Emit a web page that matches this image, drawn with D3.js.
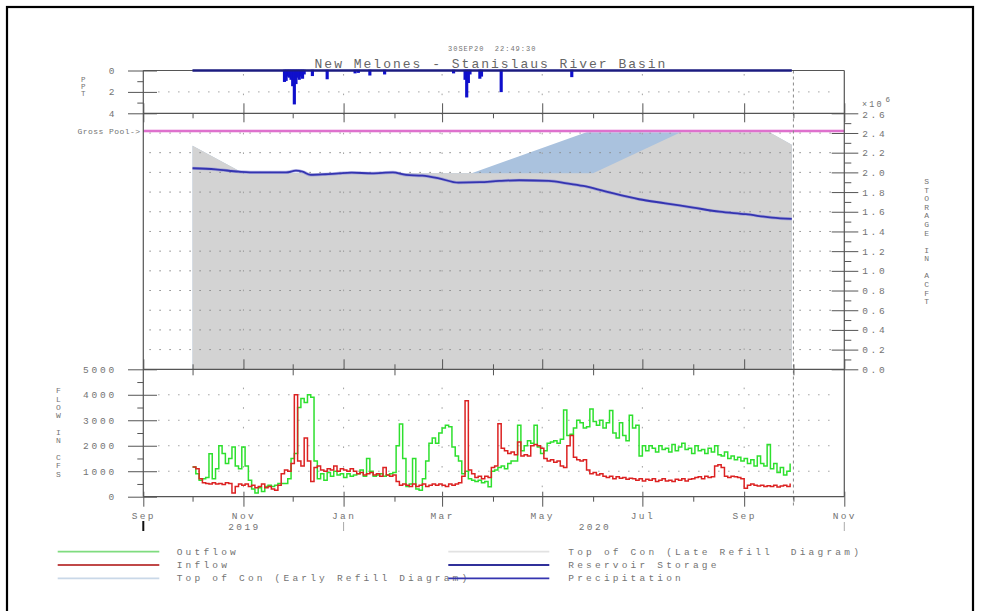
<!DOCTYPE html>
<html>
<head>
<meta charset="utf-8">
<script src="https://cdn.jsdelivr.net/npm/d3@7"></script>
<style>
  html, body { margin: 0; padding: 0; background: #fff; }
  svg { display: block; }
</style>
</head>
<body>
<svg id="chart" width="981" height="611"></svg>
<script>
// ---------------- data ----------------
const titleText = "New Melones - Stanislaus River Basin";
const stampText = "30SEP20  22:49:30";

// time axis
const axisStart = "2019-09-01";
const axisEnd = "2020-11-01";
const waterYearStart = "2019-10-01";
const waterYearEnd = "2020-10-01";

// precipitation (inches, daily, non-zero days)
const precipDates = ["2019-11-26","2019-11-27","2019-11-28","2019-11-29","2019-11-30","2019-12-01","2019-12-02","2019-12-03","2019-12-04","2019-12-05","2019-12-06","2019-12-07","2019-12-08","2019-12-13","2019-12-22","2020-01-08","2020-01-10","2020-01-17","2020-01-26","2020-03-08","2020-03-15","2020-03-16","2020-03-17","2020-03-18","2020-03-24","2020-03-25","2020-04-06","2020-05-19"];
const precipValues = [1.0,0.9,0.5,0.6,0.8,1.4,3.1,1.2,0.6,0.8,0.5,0.7,0.3,0.45,0.75,0.2,0.15,0.4,0.3,0.2,0.8,2.45,1.1,0.3,0.7,0.5,1.95,0.55];

// reservoir storage (million acre-feet)
const storageDates = ["2019-10-01","2019-10-15","2019-10-29","2019-11-05","2019-11-27","2019-12-03","2019-12-07","2019-12-12","2019-12-21","2019-12-29","2020-01-06","2020-01-18","2020-01-31","2020-02-08","2020-02-18","2020-02-28","2020-03-11","2020-03-24","2020-04-05","2020-04-17","2020-05-05","2020-05-16","2020-05-26","2020-06-09","2020-06-29","2020-07-15","2020-08-01","2020-08-17","2020-09-02","2020-09-18","2020-09-30"];
const storageValues = [2.042,2.031,2.007,2.0,2.0,2.017,2.007,1.974,1.981,1.99,1.997,1.99,2.0,1.974,1.967,1.94,1.895,1.90,1.913,1.92,1.913,1.889,1.862,1.804,1.727,1.686,1.642,1.601,1.575,1.54,1.527];

// top of conservation curves (million acre-feet)
const earlyRefillDates = ["2019-10-01","2019-11-01","2020-03-19","2020-05-30","2020-09-15","2020-09-30"];
const earlyRefillValues = [2.27,1.99,1.99,2.42,2.42,2.28];
const lateRefillDates = ["2019-10-01","2019-11-01","2020-06-01","2020-07-26","2020-09-15","2020-09-30"];
const lateRefillValues = [2.27,1.99,1.99,2.42,2.42,2.28];
const grossPool = 2.42;

// flows (cfs), one value every 2 days from 2019-10-01
const flowStart = "2019-10-01";
const flowStepDays = 2;
const outflow = [1170,900,650,700,750,1690,700,1100,2000,1700,
1300,1500,1950,1200,1100,1950,1200,650,300,150,
350,200,400,450,400,450,520,520,520,700,
1500,1700,3500,3850,3700,4000,3900,1400,700,900,
650,950,800,1000,850,900,750,900,800,850,
900,1050,800,1500,1000,800,850,900,800,850,
900,950,2000,2850,1500,400,500,1500,300,250,
700,1400,2100,2300,2100,2500,2700,2800,2750,1950,
1600,1400,900,1000,700,650,600,650,550,600,
390,1000,1050,1150,1200,1100,1300,1400,1400,2800,
1800,2000,2200,2100,2800,1950,1700,1800,2100,2150,
2200,2100,2250,3400,2400,2450,2700,3000,2900,2700,
2750,3440,2950,2800,3000,2700,2900,3380,2500,2300,
2900,2400,2200,3200,2700,2800,1600,2000,1800,2000,
1900,1750,2000,1850,1900,1750,2050,1800,1950,2100,
1850,1900,1700,2000,1800,1850,1700,1900,1750,2000,
1650,1600,1750,1500,1600,1450,1550,1400,1500,1300,
1450,1200,1600,1300,1200,2050,1100,1300,950,1150,
850,1000,1300];
const inflow = [1170,1100,700,550,520,500,550,500,520,480,
550,520,150,400,500,450,500,400,450,350,
400,500,350,400,300,250,450,900,1050,1000,
1300,4000,1400,1200,2300,1400,600,1150,1200,1050,
1000,1100,1050,1200,1000,1100,1050,1000,1100,1000,
900,950,850,900,950,850,900,800,1150,850,
800,850,600,450,500,450,400,500,400,450,
500,400,450,500,450,500,450,400,500,450,
500,550,800,3770,1050,900,750,800,700,800,
750,1150,1200,2860,1900,1800,1700,1750,1650,2150,
1600,1650,1600,2000,2050,2000,1900,1500,1400,1450,
1350,1400,1200,1150,2000,2400,1550,1450,1400,1450,
1050,900,950,850,900,800,750,800,700,780,
720,750,680,720,700,650,700,620,680,650,
700,600,650,700,620,650,600,680,650,700,
620,680,700,750,780,700,800,750,780,1200,
1250,1150,800,750,800,780,750,700,330,450,
500,450,420,450,400,430,400,450,380,420,
450,400,520];

// axis tick values
const precipTicks = [0, 2, 4];
const precipMinor = [1, 3];
const flowTicks = [0, 1000, 2000, 3000, 4000, 5000];
const flowMinor = [500, 1500, 2500, 3500, 4500];
const storageTicks = [0, 0.2, 0.4, 0.6, 0.8, 1.0, 1.2, 1.4, 1.6, 1.8, 2.0, 2.2, 2.4, 2.6];
const storageMinor = [0.1, 0.3, 0.5, 0.7, 0.9, 1.1, 1.3, 1.5, 1.7, 1.9, 2.1, 2.3, 2.5];
const yearLabels = [["2019", "2019-09-01", "2020-01-01"], ["2020", "2020-01-01", "2020-11-01"]];

const legendLeft = [["Outflow", "#7fdc7f"], ["Inflow", "#c04848"], ["Top of Con (Early Refill Diagram)", "#c9d8e8"]];
const legendRight = [["Top of Con (Late Refill  Diagram)", "#e2e2e2"], ["Reservoir Storage", "#30309a"], ["Precipitation", "#3535b0"]];

// ---------------- drawing ----------------
const MONO = "'Liberation Mono','DejaVu Sans Mono',monospace";
const TXT = "#737373";
const FRAME = "#555";
const parse = d3.timeParse("%Y-%m-%d");
const svg = d3.select("#chart");

const X0 = 143.3, X1 = 844.3;
const x = d3.scaleTime().domain([parse(axisStart), parse(axisEnd)]).range([X0, X1]);
const yP = d3.scaleLinear().domain([0, 4]).range([70.5, 113.3]);
const yS = d3.scaleLinear().domain([0, 2.6]).range([369.3, 113.3]);
const yF = d3.scaleLinear().domain([0, 5000]).range([496.7, 369.3]);

function styleText(sel, size, ls) {
  sel.attr("font-family", MONO).attr("font-size", size)
     .attr("letter-spacing", ls).attr("fill", TXT);
  return sel;
}

// page border
svg.append("rect").attr("x", 7).attr("y", 7).attr("width", 966).attr("height", 650)
  .attr("fill", "none").attr("stroke", "#000").attr("stroke-width", 2.2);

// titles
styleText(svg.append("text").attr("x", 448).attr("y", 50.5).text(stampText), 7, 1)
  .style("white-space", "pre");
styleText(svg.append("text").attr("x", 491).attr("y", 67.5).attr("text-anchor", "middle").text(titleText), 13, 2)
  .attr("fill", "#666");

// ----- storage panel fills -----
const early = earlyRefillDates.map((d, i) => ({ date: parse(d), v: earlyRefillValues[i] }));
const late = lateRefillDates.map((d, i) => ({ date: parse(d), v: lateRefillValues[i] }));
const areaS = d3.area().x(d => x(d.date)).y0(yS(0)).y1(d => yS(d.v));
svg.append("path").datum(early).attr("d", areaS).attr("fill", "#aac2de");
svg.append("path").datum(late).attr("d", areaS).attr("fill", "#d3d3d3");

// ----- gridlines -----
const grid = svg.append("g").attr("stroke", "#8c8c8c").attr("stroke-width", 1).attr("fill", "none");
storageTicks.filter(v => v > 0 && v < 2.6).forEach(v => {
  grid.append("line").attr("x1", X0 + 6).attr("x2", 831).attr("y1", yS(v)).attr("y2", yS(v))
    .attr("stroke-dasharray", "1.6,8.4");
});
flowTicks.filter(v => v > 0 && v < 5000).forEach(v => {
  grid.append("line").attr("x1", 158).attr("x2", 836).attr("y1", yF(v)).attr("y2", yF(v))
    .attr("stroke-dasharray", "1.6,8.4").attr("stroke", "#a8a8a8");
});
grid.append("line").attr("x1", 158).attr("x2", 836).attr("y1", yP(2)).attr("y2", yP(2))
  .attr("stroke-dasharray", "1.6,8.4").attr("stroke", "#a8a8a8");

const months = d3.timeMonth.range(parse(axisStart), d3.timeDay.offset(parse(axisEnd), 1));
const majorMonths = months.filter((d, i) => i % 2 === 0);
const minorMonths = months.filter((d, i) => i % 2 === 1);
majorMonths.slice(1, -1).forEach(d => {
  grid.append("line").attr("x1", x(d)).attr("x2", x(d)).attr("y1", 74).attr("y2", 494)
    .attr("stroke", "#a0a0a0").attr("stroke-dasharray", "1.6,18");
});

// gross pool line
svg.append("line").attr("x1", X0).attr("x2", X1).attr("y1", yS(grossPool)).attr("y2", yS(grossPool))
  .attr("stroke", "#f0b0e6").attr("stroke-width", 3);
svg.append("line").attr("x1", X0).attr("x2", X1).attr("y1", yS(grossPool)).attr("y2", yS(grossPool))
  .attr("stroke", "#d85cc4").attr("stroke-width", 1.3);
styleText(svg.append("text").attr("x", 77.5).attr("y", yS(grossPool) + 2.5).text("Gross Pool->"), 8, 0.45);

// storage line
const storage = storageDates.map((d, i) => ({ date: parse(d), v: storageValues[i] }));
svg.append("path").datum(storage)
  .attr("d", d3.line().x(d => x(d.date)).y(d => yS(d.v)).curve(d3.curveMonotoneX))
  .attr("fill", "none").attr("stroke", "#8a8ad8").attr("stroke-width", 3.2).attr("opacity", 0.6);
svg.append("path").datum(storage)
  .attr("d", d3.line().x(d => x(d.date)).y(d => yS(d.v)).curve(d3.curveMonotoneX))
  .attr("fill", "none").attr("stroke", "#3434b0").attr("stroke-width", 1.8);

// ----- precipitation -----
const dayW = x(d3.timeDay.offset(parse(axisStart), 1)) - x(parse(axisStart));
svg.append("line").attr("x1", x(parse(waterYearStart))).attr("x2", x(d3.timeDay.offset(parse(waterYearEnd), -1)))
  .attr("y1", yP(0)).attr("y2", yP(0)).attr("stroke", "#1c1c80").attr("stroke-width", 2);
svg.append("g").selectAll("rect").data(precipDates.map((d, i) => ({ date: parse(d), v: precipValues[i] })))
  .join("rect")
  .attr("x", d => x(d.date) - dayW / 2).attr("width", dayW)
  .attr("y", yP(0)).attr("height", d => yP(d.v) - yP(0))
  .attr("fill", "#1010cc").attr("stroke", "#1010cc").attr("stroke-width", 1.5);

// ----- flows -----
const flowDate = i => d3.timeDay.offset(parse(flowStart), i * flowStepDays);
const flowLine = d3.line().x((d, i) => x(flowDate(i))).y(d => yF(d)).curve(d3.curveStepAfter);
svg.append("path").datum(outflow).attr("d", flowLine)
  .attr("fill", "none").attr("stroke", "#2ee02e").attr("stroke-width", 1.5);
svg.append("path").datum(inflow).attr("d", flowLine)
  .attr("fill", "none").attr("stroke", "#dc2222").attr("stroke-width", 1.5);

// end of water year marker
svg.append("line").attr("x1", x(parse(waterYearEnd))).attr("x2", x(parse(waterYearEnd)))
  .attr("y1", 70.5).attr("y2", 507).attr("stroke", "#8a8a8a").attr("stroke-dasharray", "3,3");

// ----- frames -----
const fr = svg.append("g").attr("stroke", FRAME).attr("stroke-width", 1.2);
fr.append("line").attr("x1", X0).attr("x2", X0).attr("y1", 70.5).attr("y2", 496.7);
fr.append("line").attr("x1", X1).attr("x2", X1).attr("y1", 70.5).attr("y2", 496.7);
fr.append("line").attr("x1", X0).attr("x2", X1).attr("y1", 70.5).attr("y2", 70.5);
fr.append("line").attr("x1", X0).attr("x2", X1).attr("y1", 113.3).attr("y2", 113.3);
fr.append("line").attr("x1", X0).attr("x2", X1).attr("y1", 369.3).attr("y2", 369.3);
fr.append("line").attr("x1", X0).attr("x2", X1).attr("y1", 496.7).attr("y2", 496.7);
// re-draw precipitation zero line over frame
svg.append("line").attr("x1", x(parse(waterYearStart))).attr("x2", x(d3.timeDay.offset(parse(waterYearEnd), -1)))
  .attr("y1", yP(0)).attr("y2", yP(0)).attr("stroke", "#1c1c80").attr("stroke-width", 2);

function tidy(g, color) {
  g.select(".domain").remove();
  g.selectAll(".tick line").attr("stroke", color || FRAME);
  g.attr("font-family", null).attr("font-size", null);
  return g;
}

// x ticks on panel edges
function xTicks(y, axisFn, values, size) {
  const g = svg.append("g").attr("transform", `translate(0,${y})`)
    .call(axisFn(x).tickValues(values).tickSize(size).tickFormat(""));
  tidy(g);
}
xTicks(113.3, d3.axisTop, majorMonths, 10);
xTicks(113.3, d3.axisBottom, majorMonths, 9);
xTicks(113.3, d3.axisBottom, minorMonths, 5);
xTicks(369.3, d3.axisTop, majorMonths, 10);
xTicks(369.3, d3.axisTop, minorMonths, 5);
xTicks(369.3, d3.axisBottom, minorMonths, 6);
xTicks(496.7, d3.axisTop, majorMonths, 5);
xTicks(496.7, d3.axisBottom, minorMonths, 5);

// month labels
const gx = svg.append("g").attr("transform", "translate(0,496.7)")
  .call(d3.axisBottom(x).tickValues(majorMonths).tickSize(10).tickPadding(6).tickFormat(d3.timeFormat("%b")));
tidy(gx);
styleText(gx.selectAll("text"), 9.5, 2.4);

yearLabels.forEach(([label, a, b]) => {
  styleText(svg.append("text").attr("x", (x(parse(a)) + x(parse(b))) / 2 + 1).attr("y", 530)
    .attr("text-anchor", "middle").text(label), 9.5, 2.4);
});
svg.append("line").attr("x1", X0).attr("x2", X0).attr("y1", 521).attr("y2", 531)
  .attr("stroke", "#111").attr("stroke-width", 2);
[parse("2020-01-01"), parse(axisEnd)].forEach(d => {
  svg.append("line").attr("x1", x(d)).attr("x2", x(d)).attr("y1", 522).attr("y2", 531)
    .attr("stroke", "#aaa").attr("stroke-width", 1);
});

// left axes
const gp = svg.append("g").attr("transform", "translate(157,0)")
  .call(d3.axisLeft(yP).tickValues(precipTicks).tickSize(29).tickPadding(11).tickFormat(d3.format("d")));
tidy(gp);
styleText(gp.selectAll("text"), 9.5, 2.6);
tidy(svg.append("g").attr("transform", `translate(${X0},0)`)
  .call(d3.axisLeft(yP).tickValues(precipMinor).tickSize(6).tickFormat("")));

const gf = svg.append("g").attr("transform", "translate(157,0)")
  .call(d3.axisLeft(yF).tickValues(flowTicks).tickSize(29).tickPadding(11).tickFormat(d3.format("d")));
tidy(gf);
styleText(gf.selectAll("text"), 9.5, 2.8);
tidy(svg.append("g").attr("transform", `translate(${X0},0)`)
  .call(d3.axisLeft(yF).tickValues(flowMinor).tickSize(6).tickFormat("")));

// right storage axis
const gs = svg.append("g").attr("transform", "translate(831.7,0)")
  .call(d3.axisRight(yS).tickValues(storageTicks).tickSize(26.6).tickPadding(4).tickFormat(d => d.toFixed(1)));
tidy(gs);
styleText(gs.selectAll("text"), 9.5, 2.6);
gs.selectAll(".tick text").filter(d => d > 2.5).attr("dy", "0.45em");
tidy(svg.append("g").attr("transform", `translate(${X1},0)`)
  .call(d3.axisRight(yS).tickValues(storageMinor).tickSize(7).tickFormat("")));
styleText(svg.append("text").attr("x", 862).attr("y", 106.5).text("×10"), 8.5, 2.2);
styleText(svg.append("text").attr("x", 885.5).attr("y", 102).text("6"), 7.5, 0);

// stacked axis titles
function stacked(str, cx, cy0, step, size) {
  str.split("").forEach((ch, i) => {
    if (ch === " ") return;
    styleText(svg.append("text").attr("x", cx).attr("y", cy0 + i * step)
      .attr("text-anchor", "middle").attr("dominant-baseline", "central").text(ch), size, 0);
  });
}
stacked("PPT", 83.3, 79.5, 7.3, 7.5);
stacked("STORAGE IN ACFT", 926.7, 181.7, 8.57, 8);
stacked("FLOW IN CFS", 58.3, 390.7, 8.33, 8);

// legend
function legendRows(items, lx1, lx2, tx) {
  items.forEach(([label, color], i) => {
    const y = 551.7 + i * 13.3;
    styleText(svg.append("text").attr("x", tx).attr("y", y + 3).text(label), 9.5, 3.2)
      .style("white-space", "pre");
    svg.append("line").attr("x1", lx1).attr("x2", lx2).attr("y1", y).attr("y2", y)
      .attr("stroke", color).attr("stroke-width", 1.8);
  });
}
legendRows(legendLeft, 57.7, 159.3, 176.7);
legendRows(legendRight, 448.3, 549.3, 568.3);
</script>
</body>
</html>
